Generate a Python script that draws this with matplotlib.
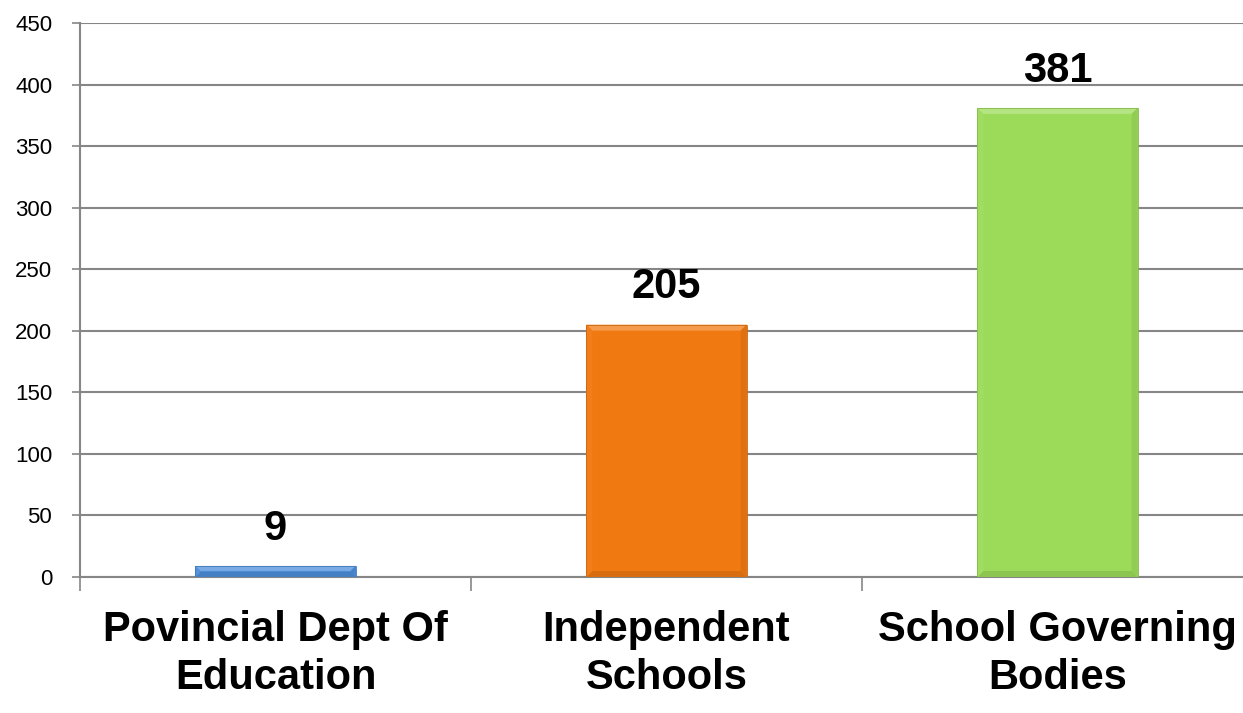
import matplotlib
matplotlib.use("Agg")
import matplotlib.pyplot as plt
from matplotlib.patches import Polygon, Rectangle
from matplotlib.ticker import FixedLocator
import matplotlib.colors as mcolors

categories = ["Povincial Dept Of\nEducation", "Independent\nSchools", "School Governing\nBodies"]
values = [9, 205, 381]
bar_colors = ["#4D8EDA", "#F07912", "#9CDB59"]
y_ticks = list(range(0, 451, 50))

W, H = 1243, 713
fig = plt.figure(figsize=(W / 100, H / 100), dpi=100)
left_px, right_px, top_px, bot_px = 80, 1253, 23, 577
ax = fig.add_axes([left_px / W, 1 - bot_px / H, (right_px - left_px) / W, (bot_px - top_px) / H])

grid_c = "#868686"
x = list(range(len(categories)))
bars = ax.bar(x, values, width=0.41, color=bar_colors, zorder=3, linewidth=0)
ax.set_xlim(-0.5, 2.5)
ax.set_ylim(0, 450)

# bevel effect
dx = 3 / (right_px - left_px)
dy = 450 / (bot_px - top_px)

def shade(c, f):
    r, g, b = mcolors.to_rgb(c)
    if f > 0:
        return (r + (1 - r) * f, g + (1 - g) * f, b + (1 - b) * f)
    return (r * (1 + f), g * (1 + f), b * (1 + f))

for p, c in zip(bars, bar_colors):
    x0, y0 = p.get_x(), p.get_y()
    x1, y1 = x0 + p.get_width(), y0 + p.get_height()
    hpx = p.get_height() / dy
    b = min(6, hpx / 2.2)
    bx, by = b * dx, b * dy
    ax.add_patch(Rectangle((x0 + 1.5 * dx, y0 - 2 * dy), p.get_width(), p.get_height(),
                           color="#000000", alpha=0.10, zorder=2.5, linewidth=0))
    ax.add_patch(Polygon([(x0, y1), (x1, y1), (x1 - bx, y1 - by), (x0 + bx, y1 - by)],
                         closed=True, color=shade(c, 0.25), zorder=4, linewidth=0))
    ax.add_patch(Polygon([(x0, y0), (x1, y0), (x1 - bx, y0 + by), (x0 + bx, y0 + by)],
                         closed=True, color=shade(c, -0.10), zorder=4, linewidth=0))
    ax.add_patch(Polygon([(x0, y0), (x0 + bx, y0 + by), (x0 + bx, y1 - by), (x0, y1)],
                         closed=True, color=shade(c, 0.04), zorder=4, linewidth=0))
    ax.add_patch(Polygon([(x1, y0), (x1 - bx, y0 + by), (x1 - bx, y1 - by), (x1, y1)],
                         closed=True, color=shade(c, -0.07), zorder=4, linewidth=0))
    ax.add_patch(Rectangle((x0, y0), p.get_width(), p.get_height(), fill=False,
                           edgecolor=shade(c, -0.15), linewidth=0.6, zorder=5))

for xi, v in zip(x, values):
    ax.annotate(str(v), (xi, v), xytext=(0, 19), textcoords="offset points",
                ha="center", va="baseline", fontsize=30, fontweight="bold",
                family=["Liberation Sans", "DejaVu Sans"], zorder=6)

ax.yaxis.set_major_locator(FixedLocator(y_ticks))
ax.grid(axis="y", color=grid_c, linewidth=1.5, zorder=0)
ax.set_axisbelow(True)
for s in ["top", "right"]:
    ax.spines[s].set_visible(False)
for s in ["left", "bottom"]:
    ax.spines[s].set_color(grid_c)
    ax.spines[s].set_linewidth(1.5)
    ax.spines[s].set_zorder(2)

ax.tick_params(axis="y", length=6, width=1.2, color=grid_c, pad=14, labelsize=16)
for lab in ax.get_yticklabels():
    lab.set_family(["Liberation Sans", "DejaVu Sans"])

ax.set_xticks(x)
ax.set_xticklabels(categories, fontsize=30, fontweight="bold",
                   family=["Liberation Sans", "DejaVu Sans"], linespacing=1.25)
ax.tick_params(axis="x", which="major", length=0, pad=24)
ax.xaxis.set_minor_locator(FixedLocator([-0.5, 0.5, 1.5, 2.5]))
ax.tick_params(axis="x", which="minor", length=10, width=1.2, color=grid_c)

fig.savefig("out.png", dpi=100)
